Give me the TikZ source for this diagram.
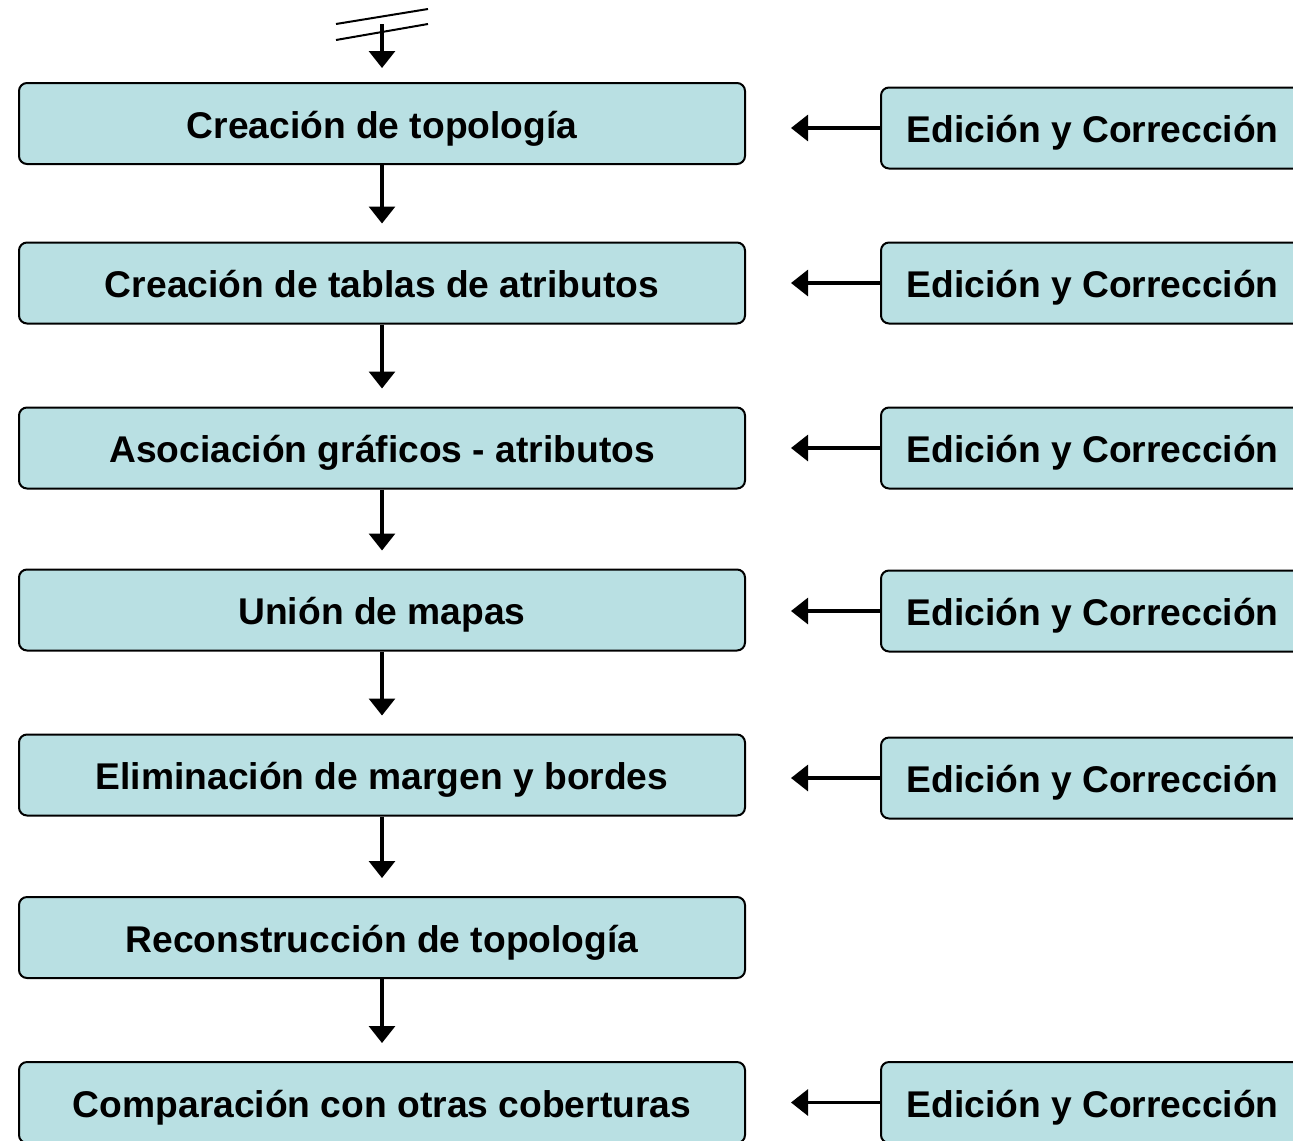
\documentclass[tikz,border=0pt]{standalone}
\usepackage{fontspec}
\setmainfont{Liberation Sans}
\usetikzlibrary{arrows.meta}
\definecolor{boxfill}{HTML}{B9E0E3}
\tikzset{
  stepbox/.style={draw=black, line width=1pt, fill=boxfill, rounded corners=4pt,
    minimum width=363pt, minimum height=40.5pt, inner sep=0pt,
    text height=16pt, text depth=1.5pt,
    font=\fontsize{18.6pt}{22pt}\selectfont\bfseries},
  editbox/.style={draw=black, line width=1pt, fill=boxfill, rounded corners=4pt,
    minimum width=211.5pt, minimum height=40.5pt, inner sep=0pt,
    text height=16pt, text depth=1.5pt,
    font=\fontsize{18.6pt}{22pt}\selectfont\bfseries},
  arr/.style={line width=1.6pt, -{Triangle[length=8.5pt,width=13pt]}},
  brk/.style={line width=1pt}
}
\begin{document}
\begin{tikzpicture}[x=0.5pt,y=-0.5pt]
\clip (0,0) rectangle (1293,1140);
\node[stepbox] (b1) at (382,123.5) {Creación de topología};
\node[stepbox] (b2) at (382,283) {Creación de tablas de atributos};
\node[stepbox] (b3) at (382,448) {Asociación gráficos - atributos};
\node[stepbox] (b4) at (382,610) {Unión de mapas};
\node[stepbox] (b5) at (382,775) {Eliminación de margen y bordes};
\node[stepbox] (b6) at (382,937.5) {Reconstrucción de topología};
\node[stepbox] (b7) at (382,1102.5) {Comparación con otras coberturas};
\node[editbox] (r1) at (1092.5,128) {Edición y Corrección};
\node[editbox] (r2) at (1092.5,283) {Edición y Corrección};
\node[editbox] (r3) at (1092.5,448) {Edición y Corrección};
\node[editbox] (r4) at (1092.5,611) {Edición y Corrección};
\node[editbox] (r5) at (1092.5,778) {Edición y Corrección};
\node[editbox] (r7) at (1092.5,1102.5) {Edición y Corrección};
% break symbol
\coordinate (s1a) at (336,24); \coordinate (s1b) at (428,9);
\coordinate (s2a) at (336,40); \coordinate (s2b) at (428,24);
\draw[brk] (s1a) -- (s1b);
\draw[brk] (s2a) -- (s2b);
\coordinate (start) at (382,24);
\draw[arr, shorten >=7pt] (start) -- (b1.north);
% vertical arrows
\foreach \a/\b in {b1/b2,b2/b3,b3/b4,b4/b5,b5/b6,b6/b7}
  \draw[arr, shorten >=9pt] (\a.south) -- (\b.north);
% horizontal arrows
\foreach \r/\b in {r1/b1,r2/b2,r3/b3,r4/b4,r5/b5,r7/b7}
  \draw[arr, shorten >=22.5pt] (\r.west) -- (\r.west -| \b.east);
\end{tikzpicture}
\end{document}
